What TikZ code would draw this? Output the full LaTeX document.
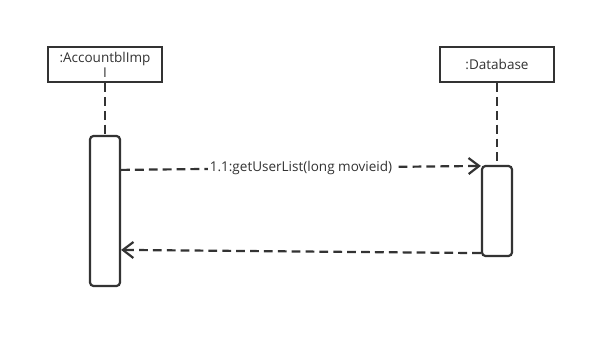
\documentclass[tikz,border=0pt]{standalone}
\usepackage{fontspec}
\setmainfont{Open Sans}
\usetikzlibrary{arrows.meta, calc}
\definecolor{seqline}{HTML}{333333}
\tikzset{
  x=0.02cm, y=-0.02cm,
  >={Straight Barb[length=2.1mm, width=3.2mm]},
  lifebox/.style={rectangle, draw=seqline, line width=1.25pt, fill=white,
                  minimum width=2.28cm, minimum height=0.7cm, inner sep=1pt,
                  align=center, font=\fontsize{7.7}{8.6}\selectfont, text=seqline},
  activation/.style={rectangle, rounded corners=2pt, draw=seqline, line width=1.25pt,
                     fill=white, minimum width=0.6cm, inner sep=0pt},
  lifeline/.style={seqline, line width=1.25pt, dash pattern=on 5pt off 2.9pt},
  msg/.style={->, seqline, line width=1.25pt, dash pattern=on 5pt off 2.9pt},
  lbl/.style={fill=white, inner sep=1pt, font=\fontsize{7.7}{8.6}\selectfont, text=seqline},
}

\begin{document}
\begin{tikzpicture}
  \useasboundingbox (0,0) rectangle (616,348);

  % objects
  \node[lifebox] (acc) at (105,64.5) {:AccountblImp\\I};
  \node[lifebox] (db) at (497,64.5) {:Database};

  % activation bars
  \node[activation, minimum height=3cm] (accAct) at (105,211) {};
  \node[activation, minimum height=1.8cm] (dbAct) at (497,211) {};

  % lifelines
  \draw[lifeline] (acc.south) -- (accAct.north);
  \draw[lifeline] (db.south) -- (dbAct.north);

  % call and return
  \draw[msg] ([yshift=-0.7cm]accAct.north east) -- node[lbl]{1.1:getUserList(long movieid)}
    ([yshift=-0.02cm]dbAct.north west);
  \draw[msg] ([yshift=0.08cm]dbAct.south west) -- ([yshift=-2.3cm]accAct.north east);
\end{tikzpicture}
\end{document}
